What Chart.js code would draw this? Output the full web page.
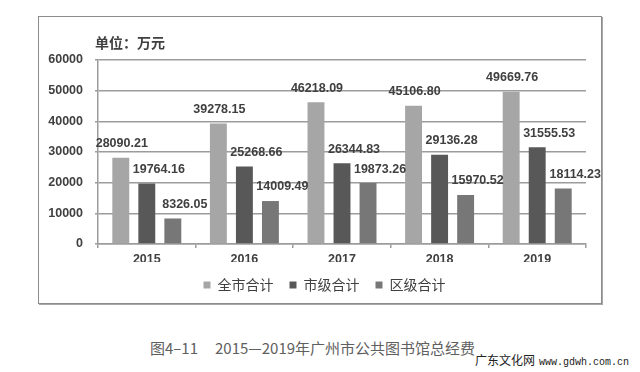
<!DOCTYPE html>
<html>
<head>
<meta charset="utf-8">
<script src="https://cdn.jsdelivr.net/npm/chart.js@4"></script>
<style>
    body { margin: 0; width: 640px; height: 372px; background: #fff; position: relative; overflow: hidden; }
    #frame {
        position: absolute; left: 38px; top: 16px; width: 564px; height: 288px;
        box-sizing: border-box; border: 1px solid #8c8c8c;
        box-shadow: 1px 1px 0 #a8a8a8;
    }
    #chart { position: absolute; left: 0; top: 0; }
    #unit {
        position: absolute; left: 95px; top: 33px;
        font: bold 14px "Noto Sans CJK SC"; line-height: 18px; color: #404040;
    }
    #caption {
        position: absolute; left: 150px; top: 338px;
        font: 15px "Noto Sans CJK SC"; line-height: 20px; color: #606060; white-space: nowrap;
    }
    #caption span { margin-left: 17px; }
    #mark {
        position: absolute; left: 475px; top: 352px; white-space: nowrap;
        font: 12px "Noto Sans CJK SC"; line-height: 16px; color: #222;
    }
    #mark span { font: 10px "Liberation Mono"; margin-left: 4px; }
</style>
</head>
<body>
<div id="frame"><canvas id="chart" width="562" height="286"></canvas></div>
<div id="unit">单位：万元</div>
<div id="caption">图4–11<span>2015—2019年广州市公共图书馆总经费</span></div>
<div id="mark">广东文化网<span>www.gdwh.com.cn</span></div>

<script>
// 2015-2019 广州市公共图书馆总经费 (万元)
const years = ['2015', '2016', '2017', '2018', '2019'];
const cityTotal = [28090.21, 39278.15, 46218.09, 45106.80, 49669.76];
const cityLevel = [19764.16, 25268.66, 26344.83, 29136.28, 31555.53];
const districtLevel = [8326.05, 14009.49, 19873.26, 15970.52, 18114.23];
const seriesNames = ['全市合计', '市级合计', '区级合计'];
const yTicks = [0, 10000, 20000, 30000, 40000, 50000, 60000];

const numFont = 'bold 12.5px "Liberation Sans"';
const axisGray = '#9c9c9c';

// value labels above the bars, nudged right like the original
const barLabels = {
    id: 'barLabels',
    afterDatasetsDraw(chart) {
        const ctx = chart.ctx;
        ctx.save();
        ctx.font = numFont;
        ctx.fillStyle = '#404040';
        ctx.textAlign = 'center';
        ctx.textBaseline = 'middle';
        chart.data.datasets.forEach((ds, i) => {
            const meta = chart.getDatasetMeta(i);
            meta.data.forEach((bar, j) => {
                ctx.fillText(ds.data[j].toFixed(2), bar.x + ds.labelShift, bar.y - 14);
            });
        });
        ctx.restore();
    }
};

// the original legend sits a little right of the canvas centre
const legendNudge = {
    id: 'legendNudge',
    afterLayout(chart) {
        chart.legend.left += 12;
        chart.legend.right += 12;
    }
};

new Chart(document.getElementById('chart'), {
    type: 'bar',
    data: {
        labels: years,
        datasets: [
            { label: seriesNames[0], data: cityTotal, backgroundColor: '#a6a6a6', labelShift: 1 },
            { label: seriesNames[1], data: cityLevel, backgroundColor: '#585858', labelShift: 12 },
            { label: seriesNames[2], data: districtLevel, backgroundColor: '#777777', labelShift: 12 }
        ]
    },
    options: {
        responsive: false,
        animation: false,
        categoryPercentage: 0.8,
        barPercentage: 0.65,
        layout: { padding: { left: 0, right: 15, top: 43, bottom: 1 } },
        plugins: {
            legend: {
                position: 'bottom',
                labels: {
                    boxWidth: 7,
                    boxHeight: 7,
                    padding: 16,
                    color: '#404040',
                    font: { family: '"Noto Sans CJK SC"', size: 14 }
                }
            },
            tooltip: { enabled: false }
        },
        scales: {
            x: {
                grid: { offset: true, drawOnChartArea: false, tickLength: 4, color: axisGray, lineWidth: 1.5 },
                border: { display: true, color: axisGray, width: 1.5 },
                ticks: { color: '#404040', font: { family: '"Liberation Sans"', size: 12.5, weight: 'bold' }, padding: 4 },
                afterFit: s => { s.height = 18; }
            },
            y: {
                min: 0,
                max: 60000,
                afterBuildTicks: s => { s.ticks = yTicks.map(v => ({ value: v })); },
                grid: { color: axisGray, lineWidth: 1.5, tickLength: 3 },
                border: { display: true, color: axisGray, width: 1.5 },
                ticks: {
                    color: '#404040',
                    font: { family: '"Liberation Sans"', size: 12.5, weight: 'bold' },
                    padding: 12,
                    callback: v => String(v)
                },
                afterFit: s => { s.width = 59; }
            }
        }
    },
    plugins: [barLabels, legendNudge]
});
</script>
</body>
</html>
